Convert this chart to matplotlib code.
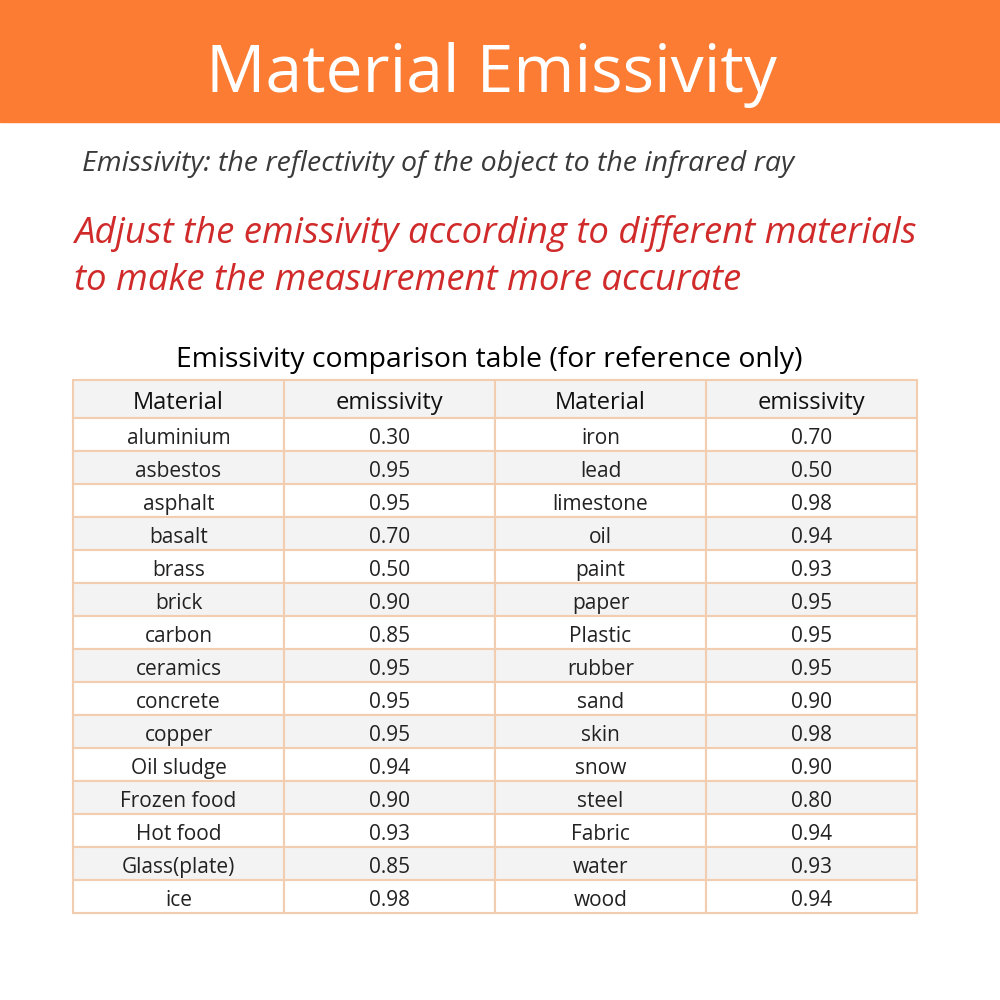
import matplotlib
matplotlib.use("Agg")
import matplotlib.pyplot as plt
from matplotlib.patches import Rectangle

plt.rcParams["font.family"] = ["Open Sans", "DejaVu Sans"]

title = "Material Emissivity"
subtitle = "Emissivity: the reflectivity of the object to the infrared ray"
note_lines = ["Adjust the emissivity according to different materials",
              "to make the measurement more accurate"]
table_title = "Emissivity comparison table (for reference only)"
headers = ["Material", "emissivity", "Material", "emissivity"]

left_materials = ["aluminium", "asbestos", "asphalt", "basalt", "brass", "brick",
                  "carbon", "ceramics", "concrete", "copper", "Oil sludge",
                  "Frozen food", "Hot food", "Glass(plate)", "ice"]
left_values = [0.30, 0.95, 0.95, 0.70, 0.50, 0.90, 0.85, 0.95, 0.95, 0.95,
               0.94, 0.90, 0.93, 0.85, 0.98]
right_materials = ["iron", "lead", "limestone", "oil", "paint", "paper", "Plastic",
                   "rubber", "sand", "skin", "snow", "steel", "Fabric", "water", "wood"]
right_values = [0.70, 0.50, 0.98, 0.94, 0.93, 0.95, 0.95, 0.95, 0.90, 0.98,
                0.90, 0.80, 0.94, 0.93, 0.94]

fig = plt.figure(figsize=(10, 10), dpi=100)
ax = fig.add_axes([0, 0, 1, 1])
ax.set_xlim(0, 1000)
ax.set_ylim(1000, 0)
ax.axis("off")

# orange banner
ax.add_patch(Rectangle((0, 0), 1000, 122, color="#fb7c32", zorder=1))
ax.text(492, 75, title, color="white", fontsize=47.5, ha="center", va="center", zorder=2)

ax.text(82, 164, subtitle, color="#3a3a3a", fontsize=20.5, style="italic",
        ha="left", va="center")
for i, line in enumerate(note_lines):
    ax.text(74, 233 + 48 * i, line, color="#d02a2a", fontsize=26.3, style="italic",
            ha="left", va="center")

ax.text(489, 360, table_title, color="black", fontsize=20.4, ha="center", va="center")

# table geometry
x0, col_w = 73, 211
y0, head_h, row_h = 380, 38, 33
border = "#f2cdb0"

rows = [headers] + [[lm, f"{lv:.2f}", rm, f"{rv:.2f}"]
                    for lm, lv, rm, rv in zip(left_materials, left_values,
                                              right_materials, right_values)]
for r, row in enumerate(rows):
    top = y0 if r == 0 else y0 + head_h + (r - 1) * row_h
    h = head_h if r == 0 else row_h
    fill = "#f3f3f3" if r % 2 == 0 else "white"
    for c, val in enumerate(row):
        ax.add_patch(Rectangle((x0 + c * col_w, top), col_w, h, facecolor=fill,
                               edgecolor=border, linewidth=1.5))
        ax.text(x0 + c * col_w + col_w / 2, top + h / 2 + 4, val,
                fontsize=17 if r == 0 else 15, color="#111111" if r == 0 else "#222222",
                ha="center", va="center")

fig.savefig("out.png", dpi=100)
